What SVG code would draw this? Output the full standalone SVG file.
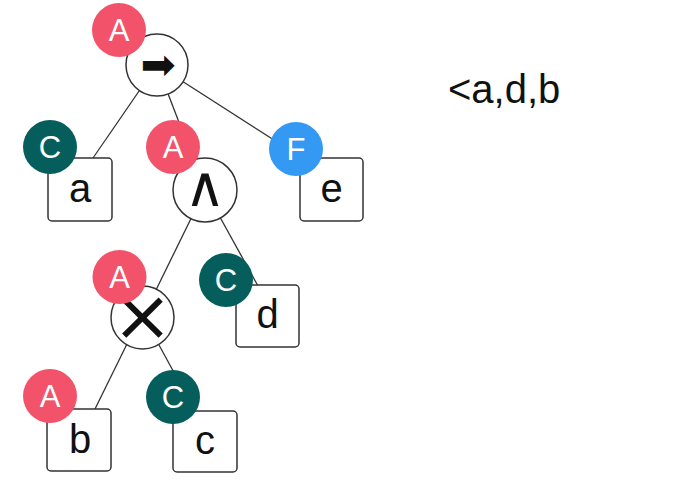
<svg xmlns="http://www.w3.org/2000/svg" width="687" height="500" viewBox="0 0 687 500">
<style>
.edge{stroke:#333;stroke-width:1.3;fill:none}
.op{fill:#fff;stroke:#333;stroke-width:1.5}
.leaf{fill:#fff;stroke:#333;stroke-width:1.5}
.lbl{font-family:"Liberation Sans",Arial,sans-serif;font-size:40px;fill:#111;text-anchor:middle}
.sym{font-family:"DejaVu Sans",sans-serif;fill:#111;text-anchor:middle}
.bt{font-family:"Liberation Sans",Arial,sans-serif;font-size:31px;fill:#fff;text-anchor:middle}
.bA{fill:#F2536A}
.bC{fill:#055E5C}
.bF{fill:#3399F3}
</style>
<rect width="687" height="500" fill="#fff"/>
<g id="connectors">
<line class="edge" x1="157" y1="65" x2="93" y2="158"/>
<line class="edge" x1="157" y1="65" x2="205" y2="190"/>
<line class="edge" x1="157" y1="65" x2="302" y2="158"/>
<line class="edge" x1="205" y1="190" x2="142.5" y2="317.5"/>
<line class="edge" x1="205" y1="190" x2="258" y2="286"/>
<line class="edge" x1="140" y1="317.5" x2="95" y2="409"/>
<line class="edge" x1="144" y1="317.5" x2="195" y2="411"/>
</g>
<g id="node-implies">
<circle class="op" cx="157" cy="65" r="31"/>
<text class="sym" x="158" y="79" font-size="42">➡&#xFE0E;</text>
<circle class="bA" cx="119" cy="30" r="27"/>
<text class="bt" x="119" y="41">A</text>
</g>
<g id="node-a">
<rect class="leaf" x="48" y="158" width="64" height="63" rx="4"/>
<text class="lbl" x="80" y="202">a</text>
<circle class="bC" cx="50" cy="147" r="27"/>
<text class="bt" x="50" y="158">C</text>
</g>
<g id="node-and">
<circle class="op" cx="205" cy="190" r="32"/>
<text class="sym" x="205" y="206" font-size="56">∧</text>
<circle class="bA" cx="173" cy="147" r="27"/>
<text class="bt" x="173" y="158">A</text>
</g>
<g id="node-e">
<rect class="leaf" x="300" y="158" width="63" height="63" rx="4"/>
<text class="lbl" x="331.5" y="202">e</text>
<circle class="bF" cx="296" cy="149" r="27"/>
<text class="bt" x="296" y="160">F</text>
</g>
<g id="node-times">
<circle class="op" cx="142.5" cy="317.5" r="31.5"/>
<text class="sym" x="142.5" y="340" font-size="72">×</text>
<circle class="bA" cx="119.5" cy="277" r="27"/>
<text class="bt" x="119.5" y="288">A</text>
</g>
<g id="node-d">
<rect class="leaf" x="236" y="285" width="63" height="62" rx="4"/>
<text class="lbl" x="267.5" y="328">d</text>
<circle class="bC" cx="226" cy="280" r="27"/>
<text class="bt" x="226" y="291">C</text>
</g>
<g id="node-b">
<rect class="leaf" x="47" y="409" width="64" height="62" rx="4"/>
<text class="lbl" x="80" y="453">b</text>
<circle class="bA" cx="50" cy="396" r="27"/>
<text class="bt" x="50" y="407">A</text>
</g>
<g id="node-c">
<rect class="leaf" x="173" y="411" width="64" height="61" rx="4"/>
<text class="lbl" x="205" y="454">c</text>
<circle class="bC" cx="173" cy="397" r="27"/>
<text class="bt" x="173" y="408">C</text>
</g>
<text class="lbl" x="448" y="103" style="text-anchor:start">&lt;a,d,b</text>
</svg>
